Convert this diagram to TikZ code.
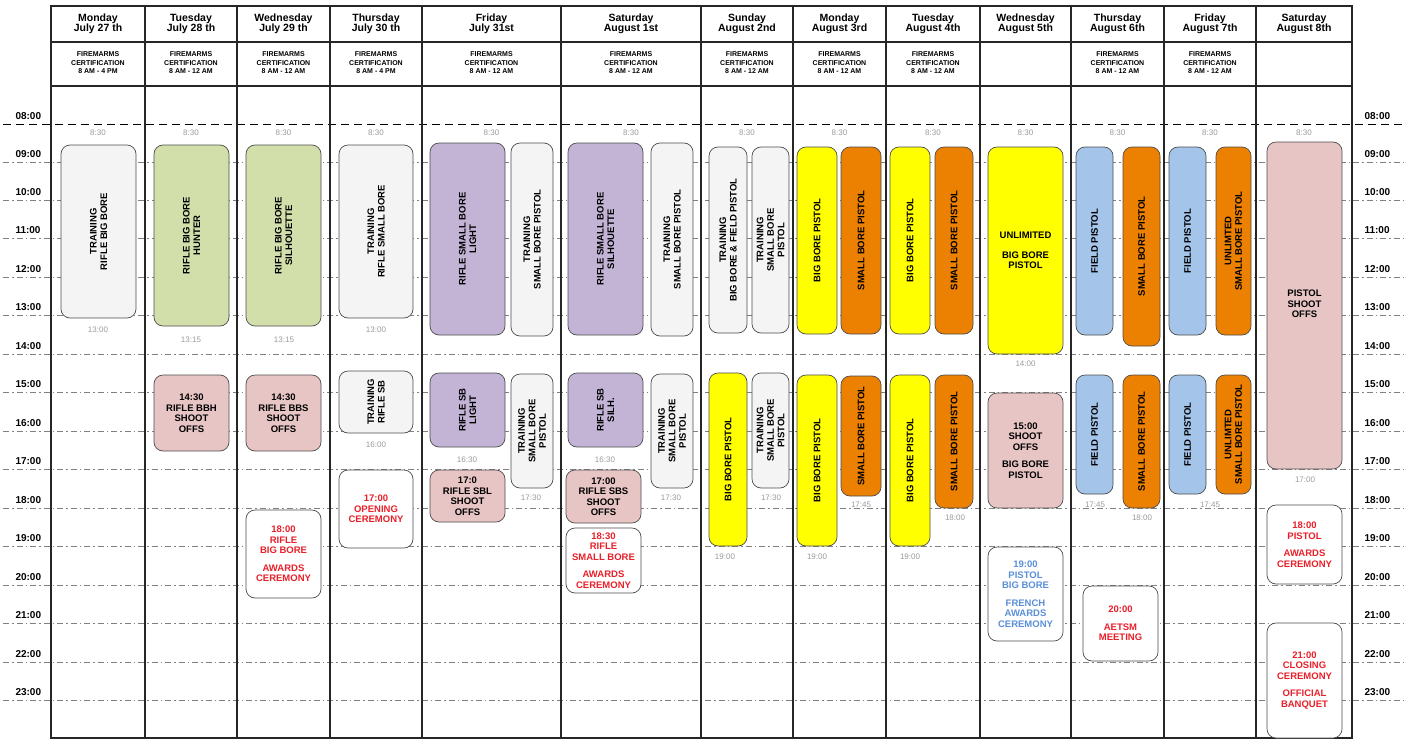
\documentclass[tikz,border=0pt]{standalone}
\usepackage{fontspec}
\setmainfont{Liberation Sans}
\definecolor{cgray}{HTML}{F4F4F4}
\definecolor{cgreen}{HTML}{D3DFAA}
\definecolor{cpink}{HTML}{E8C5C5}
\definecolor{cpurp}{HTML}{C3B4D6}
\definecolor{cyel}{HTML}{FFFF00}
\definecolor{corg}{HTML}{EC8000}
\definecolor{cblue}{HTML}{A4C4EA}
\definecolor{ctxtred}{HTML}{E8202A}
\definecolor{ctxtblue}{HTML}{5A8FD8}
\definecolor{tgray}{HTML}{9A9A9A}
\tikzset{
  evbox/.style={draw=black!70,line width=0.7pt,rounded corners=9pt,inner sep=0pt},
  evtxt/.style={font=\fontsize{9.5}{10.5}\selectfont\bfseries,align=center,inner sep=0pt},
  vtxt/.style={evtxt,rotate=90},
  tlab/.style={font=\fontsize{8}{9}\selectfont,text=tgray},
  hourlab/.style={font=\fontsize{10}{11}\selectfont\bfseries},
  dayhead/.style={font=\fontsize{10.5}{10}\selectfont\bfseries,align=center},
  cert/.style={font=\fontsize{7}{8.5}\selectfont\bfseries,align=center},
  hline/.style={gray,dash pattern=on 6pt off 3pt on 1.5pt off 3pt,line width=0.7pt},
  grid/.style={black!85,line width=1.1pt}
}
\newcommand\evbox[6]{\node[evbox,fill=#6,minimum width={(#3-#2)*1pt},minimum height={(#5-#4)*1pt}] (#1) at ({(#2+#3)/2},{(#4+#5)/2}) {};}
\newcommand\evv[7]{\evbox{#1}{#2}{#3}{#4}{#5}{#6}\node[vtxt] at (#1.center) {#7};}
\newcommand\evh[8]{\evbox{#1}{#2}{#3}{#4}{#5}{#6}\node[evtxt,text=#7] at (#1.center) {#8};}
\begin{document}
\begin{tikzpicture}[x=1pt,y=-1pt]
\useasboundingbox (0,0) rectangle (1405,747);
% hour lines
\foreach \h/\y in {9/162,10/200,11/238,12/277,13/315,14/354,15/392,16/431,17/469,18/508,19/546,20/585,21/623,22/662,23/700}{
  \draw[hline] (3,\y) -- (1405,\y);
  \node[hourlab,anchor=south west] at (12,\y-1) {\ifnum\h<10 0\fi\h:00};
  \node[hourlab,anchor=south west] at (1361,\y-1) {\ifnum\h<10 0\fi\h:00};
}
\draw[black,dashed,dash pattern=on 8pt off 5pt,line width=0.8pt] (3,124) -- (1405,124);
\node[hourlab,anchor=south west] at (12,123) {08:00};
\node[hourlab,anchor=south west] at (1361,123) {08:00};
% grid
\draw[grid] (51,6) rectangle (1352,738);
\draw[grid] (51,42) -- (1352,42) (51,86) -- (1352,86);
\foreach \x in {145,237,330,422,561,701,793,886,980,1071,1164,1256}{\draw[grid] (\x,6) -- (\x,738);}
% headers
\foreach \a/\b/\t/\c in {51/145/{Monday\\July 27 th}/{8 AM - 4 PM},145/237/{Tuesday\\July 28 th}/{8 AM - 12 AM},237/330/{Wednesday\\July 29 th}/{8 AM - 12 AM},330/422/{Thursday\\July 30 th}/{8 AM - 4 PM},422/561/{Friday\\July 31st}/{8 AM - 12 AM},561/701/{Saturday\\August 1st}/{8 AM - 12 AM},701/793/{Sunday\\August 2nd}/{8 AM - 12 AM},793/886/{Monday\\August 3rd}/{8 AM - 12 AM},886/980/{Tuesday\\August 4th}/{8 AM - 12 AM},1071/1164/{Thursday\\August 6th}/{8 AM - 12 AM},1164/1256/{Friday\\August 7th}/{8 AM - 12 AM}}{
  \node[dayhead] at ({(\a+\b)/2},24) {\t};
  \node[cert] at ({(\a+\b)/2},63) {FIREMARMS\\CERTIFICATION\\\c};
  \node[tlab] at ({(\a+\b)/2},133) {8:30};
}
\node[dayhead] at (1025.5,24) {Wednesday\\August 5th};
\node[dayhead] at (1304,24) {Saturday\\August 8th};
\node[tlab] at (1025.5,133) {8:30};
\node[tlab] at (1304,133) {8:30};
% Mon Jul 27
\evv{a1}{61}{136}{145}{318}{cgray}{TRAINING\\RIFLE BIG BORE}
\node[tlab] at (98,330) {13:00};
% Tue
\evv{b1}{154}{229}{145}{326}{cgreen}{RIFLE BIG BORE\\HUNTER}
\node[tlab] at (191,340) {13:15};
\evh{b2}{154}{229}{375}{451}{cpink}{black}{14:30\\RIFLE BBH\\SHOOT\\OFFS}
% Wed
\evv{c1}{246}{321}{145}{326}{cgreen}{RIFLE BIG BORE\\SILHOUETTE}
\node[tlab] at (284,340) {13:15};
\evh{c2}{246}{321}{375}{451}{cpink}{black}{14:30\\RIFLE BBS\\SHOOT\\OFFS}
\evh{c3}{246}{321}{510}{598}{white}{ctxtred}{18:00\\RIFLE\\BIG BORE\\[7pt]AWARDS\\CEREMONY}
% Thu
\evv{d1}{339}{413}{145}{318}{cgray}{TRAINING\\RIFLE SMALL BORE}
\node[tlab] at (376,330) {13:00};
\evv{d2}{339}{413}{371}{433}{cgray}{TRAINING\\RIFLE SB}
\node[tlab] at (376,445) {16:00};
\evh{d3}{339}{413}{470}{548}{white}{ctxtred}{17:00\\OPENING\\CEREMONY}
% Fri
\evv{e1}{430}{505}{143}{335}{cpurp}{RIFLE SMALL BORE\\LIGHT}
\evv{e2}{511}{553}{143}{336}{cgray}{TRAINING\\SMALL BORE PISTOL}
\evv{e3}{430}{505}{373}{447}{cpurp}{RIFLE SB\\LIGHT}
\node[tlab] at (467,460) {16:30};
\evv{e4}{511}{553}{374}{488}{cgray}{TRAINING\\SMALL BORE\\PISTOL}
\node[tlab] at (531,498) {17:30};
\evh{e5}{430}{505}{470}{522}{cpink}{black}{17:0\\RIFLE SBL\\SHOOT\\OFFS}
% Sat
\evv{f1}{568}{643}{143}{335}{cpurp}{RIFLE SMALL BORE\\SILHOUETTE}
\evv{f2}{651}{693}{143}{336}{cgray}{TRAINING\\SMALL BORE PISTOL}
\evv{f3}{568}{643}{373}{447}{cpurp}{RIFLE SB\\SILH.}
\node[tlab] at (605,460) {16:30};
\evv{f4}{651}{693}{374}{488}{cgray}{TRAINING\\SMALL BORE\\PISTOL}
\node[tlab] at (671,498) {17:30};
\evh{f5}{566}{641}{470}{523}{cpink}{black}{17:00\\RIFLE SBS\\SHOOT\\OFFS}
\evh{f6}{566}{641}{528}{593}{white}{ctxtred}{18:30\\RIFLE\\SMALL BORE\\[7pt]AWARDS\\CEREMONY}
% Sun
\evv{g1}{709}{747}{147}{333}{cgray}{TRAINING\\BIG BORE \& FIELD PISTOL}
\evv{g2}{752}{789}{147}{333}{cgray}{TRAINING\\SMALL BORE\\PISTOL}
\evv{g3}{709}{747}{373}{546}{cyel}{BIG BORE PISTOL}
\node[tlab] at (725,557) {19:00};
\evv{g4}{752}{789}{373}{488}{cgray}{TRAINING\\SMALL BORE\\PISTOL}
\node[tlab] at (771,498) {17:30};
% Mon Aug 3
\evv{h1}{797}{837}{147}{334}{cyel}{BIG BORE PISTOL}
\evv{h2}{841}{881}{147}{334}{corg}{SMALL BORE PISTOL}
\evv{h3}{797}{837}{375}{546}{cyel}{BIG BORE PISTOL}
\node[tlab] at (817,557) {19:00};
\evv{h4}{841}{881}{376}{496}{corg}{SMALL BORE PISTOL}
\node[tlab] at (861,505) {17:45};
% Tue Aug 4
\evv{i1}{890}{930}{147}{334}{cyel}{BIG BORE PISTOL}
\evv{i2}{935}{973}{147}{334}{corg}{SMALL BORE PISTOL}
\evv{i3}{890}{930}{375}{546}{cyel}{BIG BORE PISTOL}
\node[tlab] at (910,557) {19:00};
\evv{i4}{935}{973}{375}{508}{corg}{SMALL BORE PISTOL}
\node[tlab] at (955,518) {18:00};
% Wed Aug 5
\evh{j1}{988}{1063}{147}{354}{cyel}{black}{UNLIMITED\\[9pt]BIG BORE\\PISTOL}
\node[tlab] at (1025.5,364) {14:00};
\evh{j2}{988}{1063}{393}{508}{cpink}{black}{15:00\\SHOOT\\OFFS\\[7pt]BIG BORE\\PISTOL}
\evh{j3}{988}{1063}{547}{641}{white}{ctxtblue}{19:00\\PISTOL\\BIG BORE\\[7pt]FRENCH\\AWARDS\\CEREMONY}
% Thu Aug 6
\evv{k1}{1076}{1113}{147}{335}{cblue}{FIELD PISTOL}
\evv{k2}{1123}{1160}{147}{346}{corg}{SMALL BORE PISTOL}
\evv{k3}{1076}{1113}{375}{494}{cblue}{FIELD PISTOL}
\node[tlab] at (1095,505) {17:45};
\evv{k4}{1123}{1160}{375}{508}{corg}{SMALL BORE PISTOL}
\node[tlab] at (1142,518) {18:00};
\evh{k5}{1083}{1158}{586}{661}{white}{ctxtred}{20:00\\[7pt]AETSM\\MEETING}
% Fri Aug 7
\evv{l1}{1169}{1206}{147}{335}{cblue}{FIELD PISTOL}
\evv{l2}{1216}{1251}{147}{335}{corg}{UNLIMTED\\SMALL BORE PISTOL}
\evv{l3}{1169}{1206}{375}{494}{cblue}{FIELD PISTOL}
\node[tlab] at (1210,505) {17:45};
\evv{l4}{1216}{1251}{375}{494}{corg}{UNLIMTED\\SMALL BORE PISTOL}
% Sat Aug 8
\evbox{m1}{1267}{1342}{142}{469}{cpink}
\node[evtxt] at (1304.5,304) {PISTOL\\SHOOT\\OFFS};
\node[tlab] at (1305,480) {17:00};
\evh{m2}{1267}{1342}{505}{584}{white}{ctxtred}{18:00\\PISTOL\\[7pt]AWARDS\\CEREMONY}
\evh{m3}{1267}{1342}{623}{738}{white}{ctxtred}{21:00\\CLOSING\\CEREMONY\\[7pt]OFFICIAL\\BANQUET}
\end{tikzpicture}
\end{document}
